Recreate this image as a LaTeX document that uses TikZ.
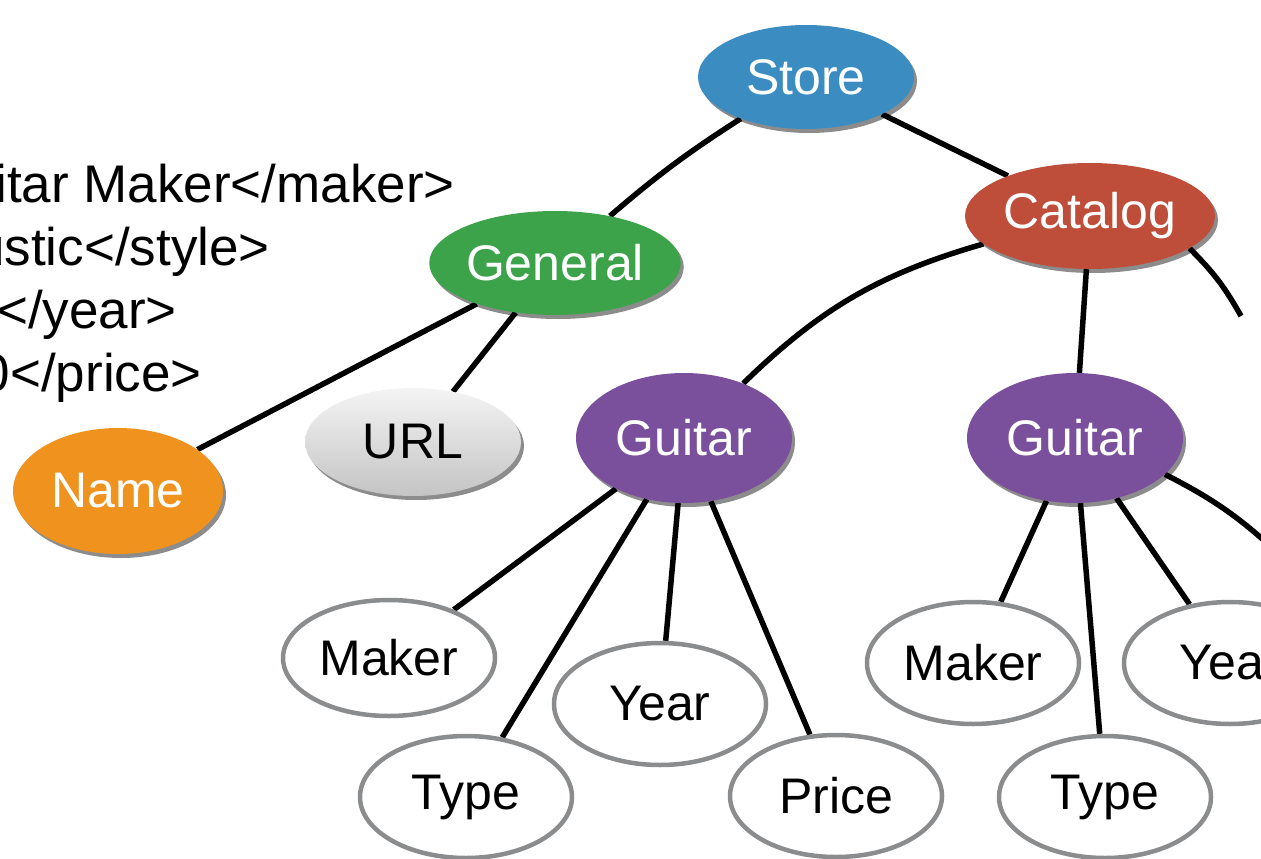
\documentclass[tikz,border=0pt]{standalone}
\usepackage{fontspec}
\setmainfont{Liberation Sans}
\usetikzlibrary{shapes.geometric,shadows,backgrounds}
\definecolor{storeblue}{HTML}{3B8DC1}
\definecolor{catred}{HTML}{BE4E3A}
\definecolor{gengreen}{HTML}{3DA34A}
\definecolor{nameorange}{HTML}{F0921E}
\definecolor{guitpurple}{HTML}{7A4F9C}
\definecolor{leafgray}{HTML}{8A8C8E}
\definecolor{urltop}{HTML}{F4F4F4}
\definecolor{urlbot}{HTML}{C4C4C4}
\begin{document}
\begin{tikzpicture}[x=1pt,y=1pt,
  edge/.style={line width=5.5pt, black},
  nd/.style={ellipse, inner sep=0pt, text=white, font=\fontsize{50}{58}\selectfont},
  filled/.style={nd, drop shadow={shadow xshift=3pt, shadow yshift=-4pt, opacity=0.45, fill=black}},
  leaf/.style={nd, draw=leafgray, line width=4.5pt, fill=white, text=black, minimum width=212pt, minimum height=122pt},
  code/.style={anchor=base east, inner sep=0pt, font=\fontsize{53}{62}\selectfont}]
\useasboundingbox (0,0) rectangle (1261,-859);
\clip (0,0) rectangle (1261,-859);
% left code text
\node[code] (c1) at (455,-202) {itar Maker</maker>};
\node[code] (c2) at (270,-265) {ustic</style>};
\node[code] (c3) at (177,-328) {</year>};
\node[code] (c4) at (202,-391) {0</price>};
% filled nodes
\node[filled, fill=storeblue, minimum width=216pt, minimum height=104pt] (store) at (806,-77) {Store};
\node[filled, fill=catred, minimum width=250pt, minimum height=106pt] (catalog) at (1090,-216) {Catalog};
\node[filled, fill=gengreen, minimum width=250pt, minimum height=104pt] (general) at (555,-263) {General};
\node[filled, top color=urltop, bottom color=urlbot, text=black, minimum width=216pt, minimum height=108pt] (url) at (413,-442) {URL};
\node[filled, fill=nameorange, minimum width=210pt, minimum height=126pt] (name) at (118,-491) {Name};
\node[filled, fill=guitpurple, minimum width=216pt, minimum height=130pt] (g1) at (684,-438) {Guitar};
\node[filled, fill=guitpurple, minimum width=216pt, minimum height=130pt] (g2) at (1075,-438) {Guitar};
% leaves
\node[leaf, minimum height=116pt] (maker1) at (389,-658) {Maker};
\node[leaf] (year1) at (660,-704) {Year};
\node[leaf] (type1) at (466,-797) {Type};
\node[leaf] (price1) at (836,-796) {Price};
\node[leaf] (maker2) at (973,-663) {Maker};
\node[leaf] (type2) at (1105,-797) {Type};
\node[leaf] (year2) at (1230,-663) {Year};
\coordinate (offA) at (1241,-316);
\coordinate (offB) at (1280,-555);
\begin{scope}[on background layer]
\draw[edge] (store) to[bend right=4] (general);
\draw[edge] (store) -- (catalog);
\draw[edge] (general) -- (name);
\draw[edge] (general) -- (url);
\draw[edge] (catalog) to[bend right=14] (g1);
\draw[edge] (catalog) -- (g2);
\draw[edge] (catalog.-18) to[bend left=8] (offA);
\draw[edge] (g1) -- (maker1);
\draw[edge] (g1) -- (type1);
\draw[edge] (g1) -- (year1);
\draw[edge] (g1) -- (price1);
\draw[edge] (g2) -- (maker2);
\draw[edge] (g2) -- (type2);
\draw[edge] (g2) -- (year2);
\draw[edge] (g2.-22) to[bend left=8] (offB);
\end{scope}
\end{tikzpicture}
\end{document}
